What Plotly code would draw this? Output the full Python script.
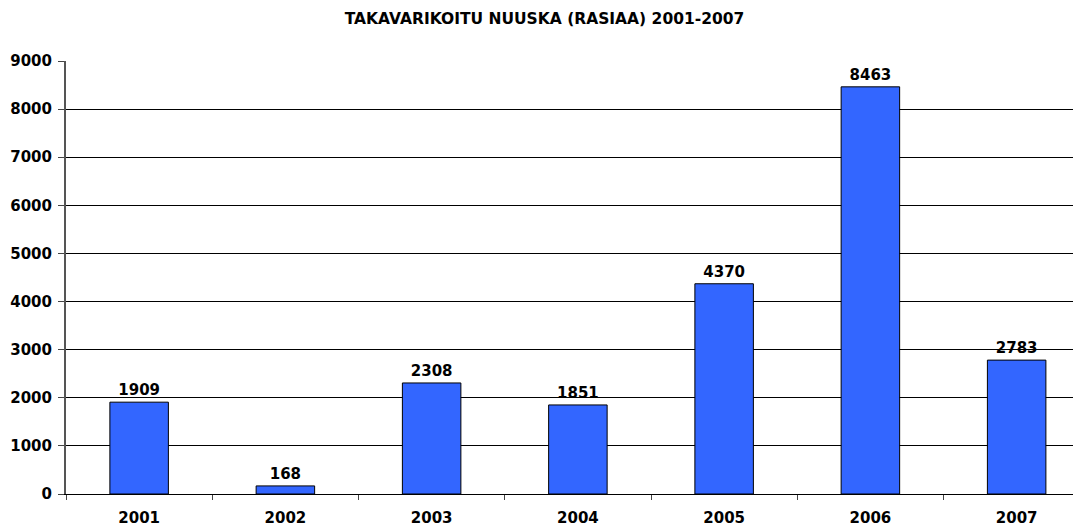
import plotly.graph_objects as go

years = ["2001", "2002", "2003", "2004", "2005", "2006", "2007"]
values = [1909, 168, 2308, 1851, 4370, 8463, 2783]
title_text = "TAKAVARIKOITU NUUSKA (RASIAA) 2001-2007"

FONT = "DejaVu Sans"

fig = go.Figure(go.Bar(
    x=years, y=values,
    width=0.4,
    marker=dict(color="#3366FF", line=dict(color="black", width=1)),
    text=[str(v) for v in values],
    textposition="outside",
    textfont=dict(family=FONT, size=15, color="black", weight="bold"),
    cliponaxis=False,
))

fig.update_layout(
    width=1073, height=519,
    margin=dict(l=58, r=0, t=53, b=33),
    plot_bgcolor="white", paper_bgcolor="white",
    font=dict(family=FONT, size=15, color="black", weight="bold"),
    title=dict(text=title_text, x=0.5, xanchor="center", y=1.0, yanchor="top",
               pad=dict(t=5),
               font=dict(family=FONT, size=15.5, color="black", weight="bold")),
    showlegend=False,
)
fig.update_xaxes(
    type="category", range=[-0.5, 6.44],
    showline=True, linecolor="black", linewidth=1,
    ticks="outside", tickson="boundaries", ticklen=5, tickcolor="#444",
    ticklabelstandoff=10,
    showgrid=False,
    tickfont=dict(family=FONT, size=15, color="black", weight="bold"),
)
fig.update_yaxes(
    range=[0, 9000], dtick=1000,
    showline=True, linecolor="#555", linewidth=2,
    ticks="outside", ticklen=6, tickcolor="#444",
    ticklabelstandoff=3,
    showgrid=True, gridcolor="black", gridwidth=1,
    zeroline=False,
    tickfont=dict(family=FONT, size=15, color="black", weight="bold"),
)

fig.write_html("out.html")
